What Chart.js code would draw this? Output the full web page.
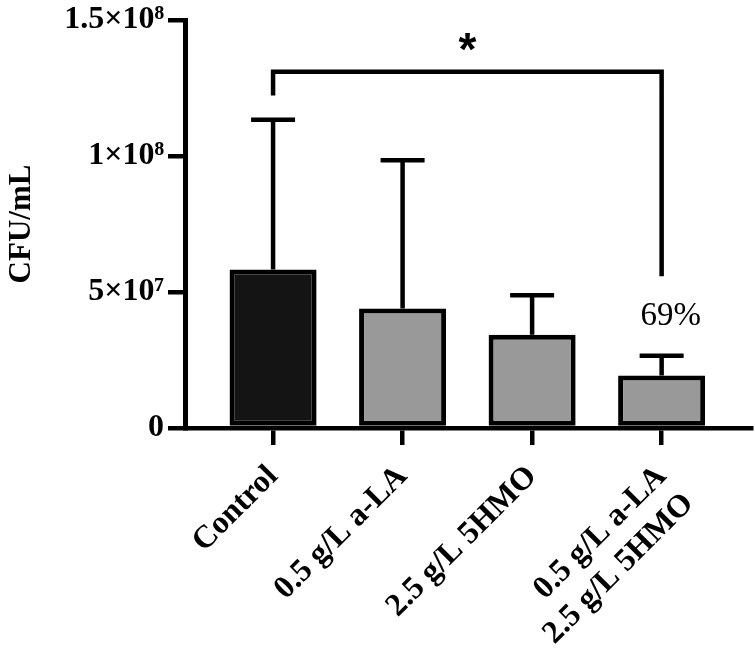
<!DOCTYPE html>
<html>
<head>
<meta charset="utf-8">
<script src="https://cdn.jsdelivr.net/npm/chart.js@4.4.1/dist/chart.umd.min.js"></script>
<style>
  html, body { margin: 0; padding: 0; background: #ffffff; }
  #wrap { width: 755px; height: 667px; position: relative; }
</style>
</head>
<body>
<div id="wrap"><canvas id="c" width="755" height="667"></canvas></div>
<script>
// ---- data ----
const categories = ['Control', '0.5 g/L a-LA', '2.5 g/L 5HMO', ['0.5 g/L a-LA', '2.5 g/L 5HMO']];
const positions = [0, 1, 2, 3];
const means = [5.83e7, 4.39e7, 3.43e7, 1.93e7];
const sds = [5.50e7, 5.45e7, 1.45e7, 0.73e7];
const barColors = ['#141414', '#999999', '#999999', '#999999'];
const yTicks = [0, 5e7, 1e8, 1.5e8];
const yTickLabels = ['0', '5×10⁷', '1×10⁸', '1.5×10⁸'];
const yTitle = 'CFU/mL';
// significance annotation
const bracketFrom = 0, bracketTo = 3;
const bracketLevel = 1.31e8;
const bracketLegEnds = [1.222e8, 5.58e7];
const sigLabel = '*';
const sigLabelValue = 1.41e8;
const pctLabel = '69%';
const pctLabelPos = [3.07, 4.09e7];

const serif = '"Liberation Serif", "Times New Roman", serif';

const errorBarPlugin = {
  id: 'errorBars',
  afterDatasetsDraw(chart) {
    const ctx = chart.ctx;
    const xs = chart.scales.x, ys = chart.scales.y;
    ctx.save();
    ctx.strokeStyle = '#000';
    ctx.lineWidth = 4.5;
    ctx.lineCap = 'butt';
    positions.forEach((p, i) => {
      const x = xs.getPixelForValue(p);
      const y0 = ys.getPixelForValue(means[i]);
      const y1 = ys.getPixelForValue(means[i] + sds[i]);
      ctx.beginPath();
      ctx.moveTo(x, y0);
      ctx.lineTo(x, y1);
      ctx.moveTo(x - 22, y1);
      ctx.lineTo(x + 22, y1);
      ctx.stroke();
    });
    // bracket
    const xa = xs.getPixelForValue(bracketFrom);
    const xb = xs.getPixelForValue(bracketTo);
    const yb = ys.getPixelForValue(bracketLevel);
    ctx.beginPath();
    ctx.moveTo(xa, ys.getPixelForValue(bracketLegEnds[0]));
    ctx.lineTo(xa, yb);
    ctx.lineTo(xb, yb);
    ctx.lineTo(xb, ys.getPixelForValue(bracketLegEnds[1]));
    ctx.stroke();
    // asterisk
    ctx.fillStyle = '#000';
    ctx.textAlign = 'center';
    ctx.textBaseline = 'middle';
    ctx.font = 'bold 46px "Liberation Sans", Arial, sans-serif';
    ctx.fillText(sigLabel, (xa + xb) / 2, ys.getPixelForValue(sigLabelValue) + 8);
    // percentage
    ctx.font = '33px ' + serif;
    ctx.fillText(pctLabel, xs.getPixelForValue(pctLabelPos[0]), ys.getPixelForValue(pctLabelPos[1]));
    ctx.restore();
  }
};

new Chart(document.getElementById('c'), {
  type: 'bar',
  data: {
    datasets: [{
      data: positions.map((p, i) => ({ x: p, y: means[i] })),
      backgroundColor: barColors,
      borderColor: '#000',
      borderWidth: 5,
      borderSkipped: false,
      categoryPercentage: 1,
      barPercentage: 0.672
    }]
  },
  options: {
    responsive: false,
    animation: false,
    events: [],
    layout: { padding: { top: 17, right: 4, left: 0, bottom: 0 } },
    plugins: { legend: { display: false }, tooltip: { enabled: false } },
    scales: {
      x: {
        type: 'linear',
        offset: false,
        min: -0.68,
        max: 3.69,
        afterBuildTicks(scale) { scale.ticks = positions.map(v => ({ value: v })); },
        afterFit(scale) { scale.height = 239; },
        border: { display: true, color: '#000', width: 4.5 },
        grid: { offset: false, drawOnChartArea: false, drawTicks: true, tickLength: 17, lineWidth: 4.5, color: '#000' },
        ticks: {
          autoSkip: false,
          minRotation: 45,
          maxRotation: 45,
          padding: 13,
          color: '#000',
          font: { family: serif, size: 32, weight: 'bold', lineHeight: 1.2 },
          callback(v) { const i = positions.indexOf(v); return i >= 0 ? categories[i] : ''; }
        }
      },
      y: {
        min: 0,
        max: 1.5e8,
        afterBuildTicks(scale) { scale.ticks = yTicks.map(v => ({ value: v })); },
        afterFit(scale) { scale.width = 185; },
        border: { display: true, color: '#000', width: 5 },
        grid: { drawOnChartArea: false, drawTicks: true, tickLength: 17, lineWidth: 4.5, color: '#000' },
        ticks: {
          padding: 4,
          color: '#000',
          font: { family: serif, size: 32, weight: 'bold', lineHeight: 1.0 },
          callback(v) { const i = yTicks.indexOf(v); return i >= 0 ? yTickLabels[i] : ''; }
        },
        title: {
          display: true,
          text: yTitle,
          color: '#000',
          padding: { top: 3, bottom: 0 },
          font: { family: serif, size: 31, weight: 'bold', lineHeight: 1.2 }
        }
      }
    }
  },
  plugins: [errorBarPlugin]
});
</script>
</body>
</html>
